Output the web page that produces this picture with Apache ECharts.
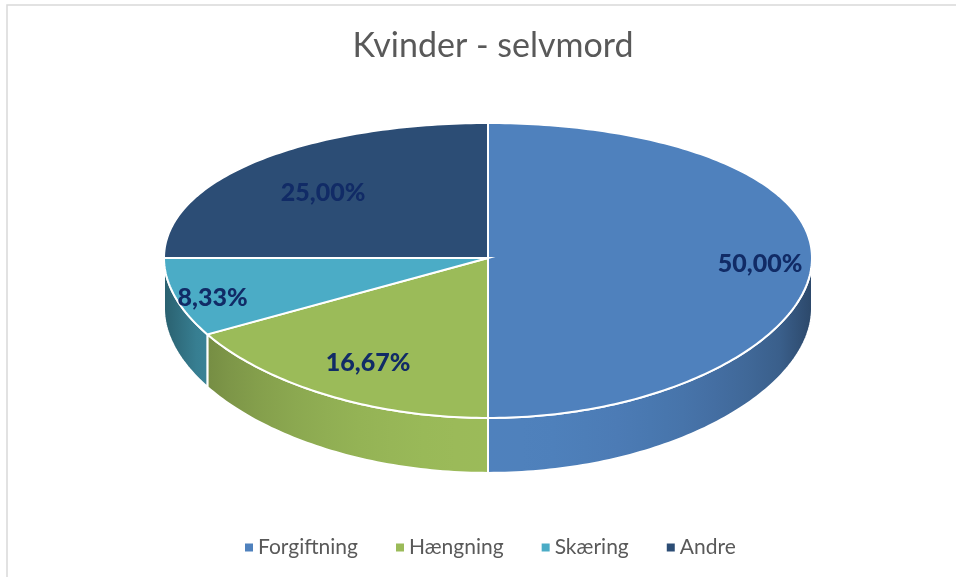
<!DOCTYPE html>
<html lang="da">
<head>
    <meta charset="UTF-8">
    <title>Kvinder - selvmord</title>
    <style>
        html, body { margin: 0; padding: 0; background: #fff; }
        #main { width: 956px; height: 577px; }
    </style>
</head>
<body>
<div id="main"></div>
<script src="https://cdn.jsdelivr.net/npm/echarts@6/dist/echarts.min.js"></script>
<script>
    // data
    const categories = ['Forgiftning', 'Hængning', 'Skæring', 'Andre'];
    const values = [50.00, 16.67, 8.33, 25.00];
    const colors = ['#4F81BD', '#9BBB59', '#4BACC6', '#2C4D75'];

    // 3d pie geometry (screen px)
    const cx = 488, cy = 258;      // centre of the top face
    const A = 324, B = 146.4;      // horizontal / vertical radius
    const P = 0.0847;              // perspective
    const H = 50.3;                // thickness
    const labelDist = [0.84, 0.74, 0.88, 0.72];
    const labelDy = 6;
    const font = 'Lato, "Open Sans", sans-serif';

    const total = values.reduce((a, b) => a + b, 0);
    const starts = [], ends = [];
    let acc = 0;
    values.forEach(v => {
        starts.push(acc / total * 360);
        acc += v;
        ends.push(acc / total * 360);
    });

    function pt(deg, r) {
        const t = deg * Math.PI / 180;
        const u = r * Math.sin(t), v = r * Math.cos(t);
        const s = 1 / (1 + P * v);
        return [cx + A * u, cy - B * v * s, s];
    }

    function shade(hex, f) {
        const n = parseInt(hex.slice(1), 16);
        const r = Math.round(((n >> 16) & 255) * f);
        const g = Math.round(((n >> 8) & 255) * f);
        const b = Math.round((n & 255) * f);
        return 'rgb(' + r + ',' + g + ',' + b + ')';
    }

    function sideFill(color) {
        const stops = [];
        for (let k = 0; k <= 20; k++) {
            const t = k / 20;
            const f = 0.56 + 0.44 * Math.sqrt(Math.sin(Math.PI * t));
            stops.push({offset: t, color: shade(color, f)});
        }
        return {type: 'linear', x: cx - A, y: 0, x2: cx + A, y2: 0, global: true, colorStops: stops};
    }

    function fmt(v) {
        return v.toFixed(2).replace('.', ',') + '%';
    }

    function draw(i, api) {
        const a = api.value(0), b = api.value(1);
        const children = [];
        // side wall (front half only: 90..270)
        const sa = Math.max(a, 90), sb = Math.min(b, 270);
        if (sb > sa) {
            const topArc = [], botArc = [];
            for (let d = sa; ; d = Math.min(d + 1, sb)) {
                const p = pt(d, 1);
                topArc.push([p[0], p[1]]);
                botArc.push([p[0], p[1] + H * p[2]]);
                if (d >= sb) break;
            }
            children.push({
                type: 'polygon',
                shape: {points: topArc.concat(botArc.reverse())},
                style: {fill: sideFill(colors[i]), stroke: '#fff', lineWidth: 2}
            });
        }
        // top face
        const pts = [[cx, cy]];
        for (let d = a; ; d = Math.min(d + 1, b)) {
            const p = pt(d, 1);
            pts.push([p[0], p[1]]);
            if (d >= b) break;
        }
        children.push({
            type: 'polygon',
            shape: {points: pts},
            style: {fill: colors[i], stroke: '#fff', lineWidth: 2}
        });
        // label
        const lp = pt((a + b) / 2, labelDist[i]);
        children.push({
            type: 'text',
            style: {
                text: fmt(values[i]),
                x: lp[0], y: lp[1] + labelDy,
                align: 'center', verticalAlign: 'middle',
                fontSize: 25, fontWeight: 900, fontFamily: font,
                fill: '#112B66'
            }
        });
        return {type: 'group', children: children};
    }

    const myChart = echarts.init(document.getElementById('main'));
    myChart.setOption({
        animation: false,
        title: {
            text: 'Kvinder - selvmord',
            left: 488,
            textAlign: 'center',
            top: 24,
            textStyle: {fontSize: 34, fontWeight: 'normal', color: '#595959', fontFamily: font}
        },
        legend: {
            data: categories,
            bottom: 14,
            left: 240,
            icon: 'rect',
            itemWidth: 8,
            itemHeight: 8,
            itemGap: 38,
            textStyle: {fontSize: 21, color: '#595959', fontFamily: font}
        },
        graphic: [{
            type: 'rect',
            shape: {x: 7, y: 5, width: 1200, height: 1200},
            style: {fill: 'none', stroke: '#D9D9D9', lineWidth: 1.5},
            silent: true
        }],
        series: categories.map((name, i) => ({
            type: 'custom',
            name: name,
            coordinateSystem: 'none',
            itemStyle: {color: colors[i]},
            data: [[starts[i], ends[i]]],
            renderItem: (params, api) => draw(i, api)
        }))
    });
</script>
</body>
</html>
